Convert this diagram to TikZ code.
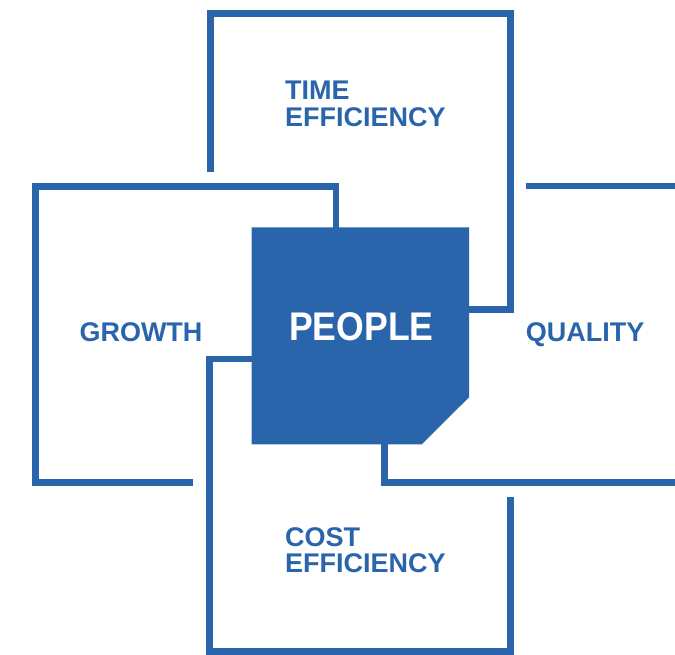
\documentclass[tikz,border=0pt]{standalone}
\usepackage{fontspec}
\setmainfont{Liberation Sans}
\definecolor{pblue}{RGB}{42,101,172}
\tikzset{
  frame/.style={draw=pblue, line width=6.5pt, line cap=butt, line join=miter},
  lbl/.style={text=pblue, font=\bfseries\fontsize{27}{26.7}\selectfont, inner sep=0pt, anchor=base west, align=left},
  core/.style={fill=pblue, draw=none}
}
\begin{document}
\begin{tikzpicture}[x=1pt,y=-1pt]
\useasboundingbox (0,0) rectangle (675,655);
\clip (0,0) rectangle (675,655);
% top box (time efficiency)
\draw[frame] (210.3,171.7) -- (210.3,13.3) -- (510.3,13.3) -- (510.3,309.5) -- (460,309.5);
% left box (growth)
\draw[frame] (193.3,482.3) -- (35.7,482.3) -- (35.7,186.7) -- (336,186.7) -- (336,235);
% bottom box (cost efficiency)
\draw[frame] (260,359.2) -- (209.3,359.2) -- (209.3,651.5) -- (510.3,651.5) -- (510.3,497.3);
% right box (quality)
\draw[frame] (525.7,186) -- (690,186);
\draw[frame] (384.3,435) -- (384.3,482.3) -- (690,482.3);
% centre
\fill[core] (251.7,227.3) -- (469,227.3) -- (469,397.3) -- (421.7,444.3) -- (251.7,444.3) -- cycle;
\node[text=white, font=\bfseries\fontsize{40}{40}\selectfont, inner sep=0pt, anchor=base] (people) at (361.3,340.7) {\scalebox{0.89}[1]{PEOPLE}};
\node[lbl] (time) at (285,126.7) {TIME\\EFFICIENCY};
\node[lbl] (growth) at (79.3,341) {GROWTH};
\node[lbl] (quality) at (525.7,341.5) {QUALITY};
\node[lbl] (cost) at (285,572.7) {COST\\EFFICIENCY};
\end{tikzpicture}
\end{document}
